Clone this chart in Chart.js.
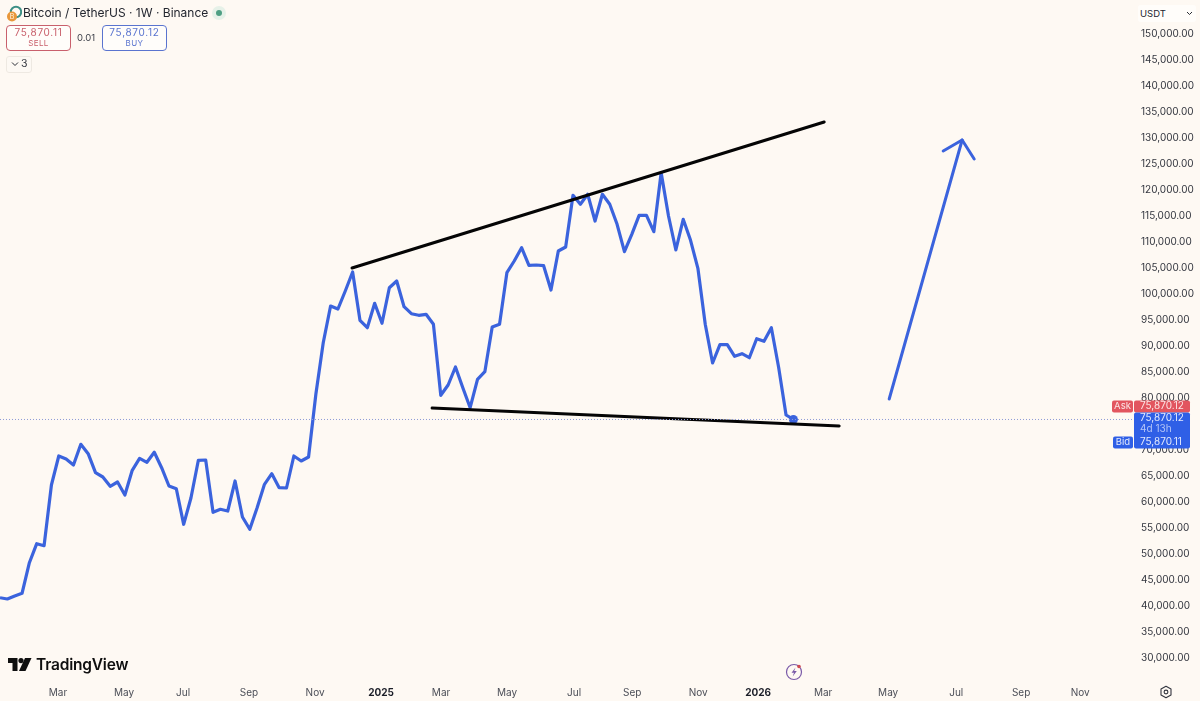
<!DOCTYPE html>
<html>
<head>
<meta charset="utf-8">
<title>Bitcoin / TetherUS</title>
<script src="https://cdn.jsdelivr.net/npm/chart.js@4/dist/chart.umd.min.js"></script>
<style>
  html, body { margin: 0; padding: 0; background: #fef9f3; }
  body { width: 1200px; height: 701px; overflow: hidden; position: relative; font-family: Inter, "Noto Sans", sans-serif; color: #1b1e28; }
  canvas { position: absolute; left: 0; top: 0; }
  .abs { position: absolute; white-space: nowrap; }
  .quote { position: absolute; top: 25px; width: 63px; height: 24px; border: 1px solid; border-radius: 4px; text-align: center; background: #fffdfa; }
  .quote div:first-child { font-size: 10px; line-height: 11px; margin-top: 1px; letter-spacing: 0.7px; }
  .quote div:last-child { font-size: 8px; line-height: 10px; letter-spacing: 0.4px; }
</style>
</head>
<body>
<canvas id="btcChart" width="1200" height="701"></canvas>

<svg class="abs" style="left:6px;top:5px" width="16" height="17" viewBox="0 0 16 17">
  <circle cx="10" cy="7" r="5.2" fill="none" stroke="#3d8f85" stroke-width="2"/>
  <circle cx="6" cy="11.5" r="5" fill="#e8973a"/>
  <text x="6" y="14" font-size="7" text-anchor="middle" fill="#fff3df" font-family="Inter">B</text>
</svg>
<div class="abs" style="left:23px;top:5px;font-size:12px;line-height:16px;color:#23262f">Bitcoin / TetherUS · 1W · Binance</div>
<div class="abs" style="left:212px;top:6px;width:14px;height:14px;border-radius:7px;background:#e6f1e8"></div>
<div class="abs" style="left:216px;top:10px;width:6px;height:6px;border-radius:3px;background:#4f9f83"></div>

<div class="quote" style="left:6px;border-color:#c9606c;color:#c9606c"><div>75,870.11</div><div>SELL</div></div>
<div class="abs" style="left:77px;top:32px;font-size:9.5px;line-height:12px;color:#3a3d46">0.01</div>
<div class="quote" style="left:102px;border-color:#5a74cf;color:#5a74cf"><div>75,870.12</div><div>BUY</div></div>

<div class="abs" style="left:6px;top:56px;width:24px;height:15px;border:1px solid #eee9e2;border-radius:3px;background:#fdf9f4"></div>
<svg class="abs" style="left:11px;top:61px" width="8" height="6" viewBox="0 0 8 6"><path d="M1 1.5 L4 4.5 L7 1.5" fill="none" stroke="#2a2d35" stroke-width="1"/></svg>
<div class="abs" style="left:21px;top:57px;font-size:10.5px;line-height:14px;color:#33363f">3</div>

<div class="abs" style="left:1138px;top:5px;width:58px;height:17px;background:#fffdfa;border-radius:3px"></div>
<div class="abs" style="left:1140px;top:7px;font-size:9.5px;line-height:13px;color:#23262f">USDT</div>
<svg class="abs" style="left:1186px;top:11px" width="7" height="5" viewBox="0 0 7 5"><path d="M1 1 L3.5 3.5 L6 1" fill="none" stroke="#2a2d35" stroke-width="1"/></svg>

<svg class="abs" style="left:8px;top:658px" width="24" height="14" viewBox="0 0 24 14">
  <path d="M0 0 H9.5 V13 H4.5 V5 H0 Z" fill="#0f0f0f"/>
  <circle cx="13" cy="2.6" r="2.6" fill="#0f0f0f"/>
  <path d="M17 0 H23.5 L17.5 13 H11 Z" fill="#0f0f0f"/>
</svg>
<div class="abs" style="left:36px;top:655px;font-size:15.5px;line-height:20px;font-weight:600;letter-spacing:-0.2px;color:#0f0f0f">TradingView</div>

<svg class="abs" style="left:784px;top:662px" width="20" height="20" viewBox="0 0 20 20">
  <circle cx="10" cy="10" r="7.5" fill="none" stroke="#7a5aa8" stroke-width="1.2"/>
  <path d="M11.5 5.5 L7.5 10.8 H10 L8.7 14.5 L12.8 9 H10.2 Z" fill="#7a5aa8"/>
  <circle cx="15" cy="4.5" r="1.8" fill="#d0484f"/>
</svg>
<svg class="abs" style="left:1159px;top:685px" width="14" height="14" viewBox="0 0 14 14">
  <path d="M7 1.2 L12 4 V10 L7 12.8 L2 10 V4 Z" fill="none" stroke="#33363f" stroke-width="1.1" stroke-linejoin="round"/>
  <circle cx="7" cy="7" r="1.9" fill="none" stroke="#33363f" stroke-width="1.1"/>
</svg>

<script>
// weekly closes
const weeklyClose = [
  41595, 41346, 41922, 42441, 48326, 51981, 51596, 63269, 68846, 68269,
  67115, 71095, 69288, 65634, 64807, 63019, 63846, 61346, 66096, 68403,
  67634, 69557, 66596, 63076, 62557, 55710, 60826, 68018, 68076, 58019,
  58596, 58268, 64038, 57115, 54750, 58903, 63403, 65441, 62749, 62691,
  68846, 67884, 68653, 80768, 90634, 97692, 97115, 100576, 104230, 94942,
  93519, 98211, 94365, 101211, 102499, 97557, 96211, 95903, 96096, 94173,
  80519, 82499, 85961, 81980, 78134, 83595, 85057, 93653, 94173, 104096,
  106346, 108903, 105519, 105576, 105442, 100769, 108269, 109038, 118980, 117250,
  119173, 114038, 119173, 117250, 113403, 108134, 111480, 115134, 115134, 111980,
  123327, 115000, 108461, 114365, 110327, 104942, 94173, 86730, 90250, 90250,
  88018, 88519, 87749, 91403, 90903, 93519, 85826, 76730, 75870
];
const weekIndex = weeklyClose.map((v, i) => i);

// hand drawn lines on the chart, [week, price]
const upperTrend = [[47.92, 105000], [112.19, 133077]];
const lowerTrend = [[58.82, 78077], [114.23, 74615]];
const arrowShaft = [[121.04, 79808], [130.97, 129615]];
const arrowHead = [[128.39, 127500], [130.97, 129615], [132.61, 125961]];

const timeLabels = ['Mar', 'May', 'Jul', 'Sep', 'Nov', '2025', 'Mar', 'May', 'Jul', 'Sep', 'Nov', '2026', 'Mar', 'May', 'Jul', 'Sep', 'Nov'];
const timeTicks = [7.9, 16.88, 24.92, 33.9, 42.89, 51.87, 60.04, 69.03, 78.15, 86.05, 95.03, 103.2, 112.05, 120.9, 130.16, 139.0, 147.04];

const priceTicks = [30000, 35000, 40000, 45000, 50000, 55000, 60000, 65000, 70000, 75000, 80000, 85000, 90000, 95000, 100000, 105000, 110000, 115000, 120000, 125000, 130000, 135000, 140000, 145000, 150000];
const lastPrice = 75870;
const askText = '75,870.12';
const bidText = '75,870.11';
const countdownText = '4d 13h';

const blue = '#3b63dd';
const black = '#050505';

function toPoints(pairs) {
  return pairs.map(p => ({ x: p[0], y: p[1] }));
}

function drawingLine(pairs, color) {
  return {
    data: toPoints(pairs),
    borderColor: color,
    borderWidth: 3,
    pointRadius: 0,
    borderCapStyle: 'round',
    borderJoinStyle: 'round',
    tension: 0
  };
}

// Ask / Bid labels sitting on the price axis
const priceBadges = {
  id: 'priceBadges',
  afterDraw(chart) {
    const ctx = chart.ctx;
    const y = chart.scales.y.getPixelForValue(lastPrice);
    ctx.save();
    ctx.textBaseline = 'middle';

    ctx.fillStyle = '#e2555f';
    ctx.beginPath(); ctx.roundRect(1112, y - 19, 21, 12, 2); ctx.fill();
    ctx.beginPath(); ctx.roundRect(1134, y - 19, 56, 12, 2); ctx.fill();

    ctx.fillStyle = '#2f5fe6';
    ctx.beginPath(); ctx.roundRect(1134, y - 7, 56, 36, 2); ctx.fill();
    ctx.beginPath(); ctx.roundRect(1113, y + 17, 20, 12, 2); ctx.fill();

    ctx.textAlign = 'center';
    ctx.fillStyle = '#fbe4e4';
    ctx.font = '9.5px Inter';
    ctx.fillText('Ask', 1122.5, y - 13);
    ctx.fillStyle = '#e3e9fd';
    ctx.fillText('Bid', 1123, y + 23);

    ctx.textAlign = 'left';
    ctx.font = '10px Inter';
    ctx.fillStyle = '#fbe4e4';
    ctx.fillText(askText, 1140, y - 13);
    ctx.fillStyle = '#e3e9fd';
    ctx.fillText(askText, 1140, y - 1);
    ctx.fillText(bidText, 1140, y + 23);
    ctx.fillStyle = '#b4c5f7';
    ctx.fillText(countdownText, 1140, y + 10);
    ctx.restore();
  }
};

const ctx = document.getElementById('btcChart').getContext('2d');
new Chart(ctx, {
  type: 'line',
  data: {
    datasets: [
      {
        // current price line
        data: [{ x: 0, y: lastPrice }, { x: 154.5, y: lastPrice }],
        borderColor: '#8d9bd6',
        borderWidth: 1,
        borderDash: [1, 2],
        pointRadius: 0
      },
      drawingLine(lowerTrend, black),
      drawingLine(upperTrend, black),
      {
        data: weekIndex.map((w, i) => ({ x: w, y: weeklyClose[i] })),
        borderColor: blue,
        backgroundColor: blue,
        borderWidth: 3.2,
        borderJoinStyle: 'round',
        tension: 0,
        pointBorderWidth: 0,
        pointRadius: c => (c.dataIndex === weeklyClose.length - 1 ? 4.5 : 0)
      },
      drawingLine(arrowShaft, blue),
      drawingLine(arrowHead, blue)
    ]
  },
  options: {
    responsive: false,
    animation: false,
    layout: { padding: 0, autoPadding: false },
    plugins: {
      legend: { display: false },
      tooltip: { enabled: false }
    },
    scales: {
      x: {
        type: 'linear',
        min: 0,
        max: 154.5,
        grid: { display: false, drawTicks: false },
        border: { display: false },
        afterFit: s => {
          s.height = 21;
          s.paddingLeft = 0;
          s.paddingRight = 0;
        },
        afterBuildTicks: s => { s.ticks = timeTicks.map(v => ({ value: v })); },
        ticks: {
          autoSkip: false,
          maxRotation: 0,
          padding: 7,
          color: c => (c.index === 5 || c.index === 11 ? '#1b1e28' : '#4b4e57'),
          font: c => (c.index === 5 || c.index === 11
            ? { family: 'Inter', size: 10, weight: 'bold' }
            : { family: 'Inter', size: 10 }),
          callback: (v, i) => timeLabels[i]
        }
      },
      y: {
        type: 'linear',
        position: 'right',
        min: 25769,
        max: 156538,
        grid: { display: false, drawTicks: false },
        border: { display: false },
        afterFit: s => {
          s.width = 65;
          s.paddingTop = 0;
          s.paddingBottom = 0;
        },
        afterBuildTicks: s => { s.ticks = priceTicks.map(v => ({ value: v })); },
        ticks: {
          autoSkip: false,
          padding: 6,
          color: '#33363f',
          font: { family: 'Inter', size: 10 },
          callback: v => v.toLocaleString('en-US', { minimumFractionDigits: 2 })
        }
      }
    }
  },
  plugins: [priceBadges]
});
</script>
</body>
</html>
